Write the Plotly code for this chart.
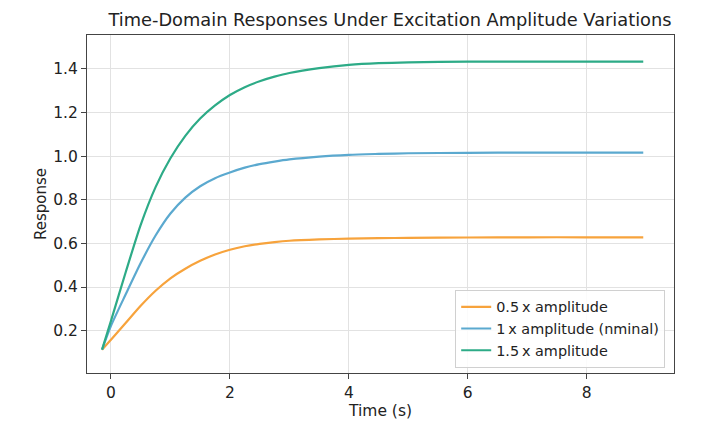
import plotly.graph_objects as go

time_s = [-0.15, 0.0, 0.25, 0.5, 0.75, 1.0, 1.25, 1.5, 1.75, 2.0, 2.25, 2.5, 2.75, 3.0,
          3.5, 4.0, 4.5, 5.0, 6.0, 7.0, 8.0, 8.95]
resp_half = [0.113, 0.158, 0.236, 0.314, 0.383, 0.44, 0.484, 0.52, 0.549, 0.571, 0.587, 0.598,
             0.606, 0.612, 0.618, 0.622, 0.624, 0.625, 0.627, 0.628, 0.628, 0.628]
resp_nominal = [0.113, 0.222, 0.368, 0.51, 0.636, 0.737, 0.81, 0.862, 0.899, 0.925, 0.947, 0.963,
                0.975, 0.985, 0.998, 1.006, 1.01, 1.013, 1.015, 1.016, 1.016, 1.016]
resp_1p5 = [0.113, 0.245, 0.47, 0.685, 0.858, 0.99, 1.093, 1.172, 1.232, 1.28, 1.316, 1.343,
            1.364, 1.381, 1.403, 1.418, 1.426, 1.43, 1.433, 1.433, 1.433, 1.433]

series_names = ["0.5\u2009x amplitude", "1\u2009x amplitude (nminal)", "1.5\u2009x amplitude"]
series_colors = ["#f7a33c", "#5ba9cf", "#2dab87"]
series_values = [resp_half, resp_nominal, resp_1p5]

x_ticks = [0, 2, 4, 6, 8]
y_ticks = [0.2, 0.4, 0.6, 0.8, 1.0, 1.2, 1.4]

FONT = "DejaVu Sans"
TXT = "#222222"

fig = go.Figure()
for name, color, vals in zip(series_names, series_colors, series_values):
    fig.add_trace(go.Scatter(
        x=time_s, y=vals, mode="lines", name=name,
        line=dict(color=color, width=2.2, shape="spline", smoothing=0.7),
    ))

axis_common = dict(
    showline=True, linecolor="#444444", linewidth=1.2, mirror=True,
    showgrid=True, gridcolor="#e2e2e2", gridwidth=1,
    ticks="outside", ticklen=5, tickcolor="#444444", tickwidth=1,
    zeroline=False, automargin=False,
    tickfont=dict(family=FONT, size=15.5, color=TXT),
)

# page body has an 8px margin, so the figure is 8px smaller than the window
W, H = 708, 424
L, R, T, B = 79, 42, 27, 59

fig.update_layout(
    width=W, height=H,
    paper_bgcolor="white", plot_bgcolor="white",
    margin=dict(l=L, r=R, t=T, b=B),
    title=dict(
        text="Time-Domain Responses Under Excitation Amplitude Variations",
        font=dict(family=FONT, size=17.8, color=TXT),
        x=382 / W, xanchor="center",
        y=1 - 12 / H, yanchor="middle",
    ),
    xaxis=dict(
        range=[-0.403, 9.467], tickvals=x_ticks,
        title=dict(text="Time (s)", font=dict(family=FONT, size=15.5, color=TXT), standoff=4),
        **axis_common,
    ),
    yaxis=dict(
        range=[0.006, 1.555], tickvals=y_ticks, tickformat=".1f",
        title=dict(text="Response", font=dict(family=FONT, size=15, color=TXT), standoff=2),
        **axis_common,
    ),
    legend=dict(
        x=0.985, y=0.015, xanchor="right", yanchor="bottom",
        bgcolor="rgba(255,255,255,0.85)", bordercolor="#d0d0d0", borderwidth=1,
        font=dict(family=FONT, size=14.4, color=TXT),
        tracegroupgap=0,
    ),
    showlegend=True,
)

fig.write_html("out.html")
